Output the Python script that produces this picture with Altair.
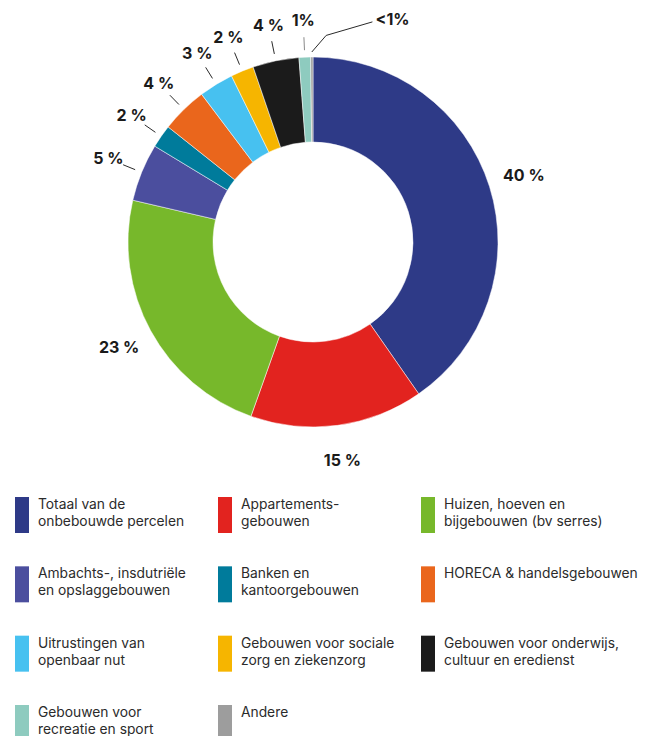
import altair as alt
import pandas as pd

# ---- data ----
categories = [
    "Totaal van de\nonbebouwde percelen",
    "Appartements-\ngebouwen",
    "Huizen, hoeven en\nbijgebouwen (bv serres)",
    "Ambachts-, insdutriële\nen opslaggebouwen",
    "Banken en\nkantoorgebouwen",
    "HORECA & handelsgebouwen",
    "Uitrustingen van\nopenbaar nut",
    "Gebouwen voor sociale\nzorg en ziekenzorg",
    "Gebouwen voor onderwijs,\ncultuur en eredienst",
    "Gebouwen voor\nrecreatie en sport",
    "Andere",
]
values = [40, 15, 23, 5, 2, 4, 3, 2, 4, 1, 0.2]
labels = ["40 %", "15 %", "23 %", "5 %", "2 %", "4 %", "3 %", "2 %", "4 %", "1%", "<1%"]
colors = ["#2E3A87", "#E2231F", "#77B82B", "#4B4E9E", "#007B9B", "#EA661C",
          "#47C1F0", "#F6B500", "#1B1B1B", "#8ECBBF", "#9D9D9D"]

df = pd.DataFrame({
    "cat": categories,
    "value": values,
    "label": labels,
    "idx": list(range(len(categories))),
})

CX, CY = 305, 234  # centre of the donut inside its plot area
color = alt.Color("cat:N", scale=alt.Scale(domain=categories, range=colors), legend=None)

base = (
    alt.Chart(df)
    .transform_joinaggregate(total="sum(value)")
    .transform_window(cum="sum(value)", sort=[alt.SortField("idx")], frame=[None, 0])
    .transform_calculate(
        t0="(datum.cum - datum.value) / datum.total * 2 * PI",
        t1="datum.cum / datum.total * 2 * PI",
        mid="(datum.t0 + datum.t1) / 2",
        lth="datum.idx == 10 ? datum.mid + 0.35 : datum.mid",
        lr="datum.idx == 10 ? 236 : 221",
        tx=f"{CX} + datum.lr * sin(datum.lth)",
        ty=f"{CY} - datum.lr * cos(datum.lth)",
        lx1=f"{CX} + 192 * sin(datum.mid)",
        ly1=f"{CY} - 192 * cos(datum.mid)",
        lx2=f"{CX} + 205 * sin(datum.mid)",
        ly2=f"{CY} - 205 * cos(datum.mid)",
        ax1=f"{CX} + 190 * sin(datum.mid)",
        ay1=f"{CY} - 190 * cos(datum.mid)",
        ex=f"{CX} + 207 * sin(datum.mid + 0.07)",
        ey=f"{CY} - 207 * cos(datum.mid + 0.07)",
        fx=f"{CX} + 228 * sin(datum.mid + 0.27)",
        fy=f"{CY} - 228 * cos(datum.mid + 0.27)",
    )
)

arcs = base.mark_arc(innerRadius=100, outerRadius=185, stroke="white", strokeWidth=0.5).encode(
    theta=alt.Theta("t0:Q", scale=None, stack=None),
    theta2="t1:Q",
    color=color,
    x=alt.value(CX),
    y=alt.value(CY),
)

leaders = base.transform_filter("datum.value < 10 && datum.idx != 10").mark_rule(strokeWidth=1).encode(
    x=alt.X("lx1:Q", scale=None, axis=None),
    y=alt.Y("ly1:Q", scale=None, axis=None),
    x2="lx2:Q",
    y2="ly2:Q",
    color=alt.condition("datum.idx == 9", alt.value("#8a8a8a"), alt.value("#2a2a2a")),
)

andere1 = base.transform_filter("datum.idx == 10").mark_rule(strokeWidth=1, color="#2a2a2a").encode(
    x=alt.X("ax1:Q", scale=None, axis=None),
    y=alt.Y("ay1:Q", scale=None, axis=None),
    x2="ex:Q",
    y2="ey:Q",
)
andere2 = base.transform_filter("datum.idx == 10").mark_rule(strokeWidth=1, color="#2a2a2a").encode(
    x=alt.X("ex:Q", scale=None, axis=None),
    y=alt.Y("ey:Q", scale=None, axis=None),
    x2="fx:Q",
    y2="fy:Q",
)

texts = base.mark_text(font="Inter", fontWeight="bold", fontSize=16, color="#1a1a1a",
                       align="center", baseline="middle").encode(
    x=alt.X("tx:Q", scale=None, axis=None),
    y=alt.Y("ty:Q", scale=None, axis=None),
    text="label:N",
)

donut = alt.layer(arcs, leaders, andere1, andere2, texts).properties(width=610, height=462)

# ---- legend as a small chart ----
leg_base = alt.Chart(df).transform_calculate(
    col="datum.idx % 3",
    row="floor(datum.idx / 3)",
)
xs = alt.Scale(domain=[0, 3], range=[14, 623])
ys = alt.Scale(domain=[0, 3], range=[45, 253])
swatches = leg_base.mark_rect(width=14, height=36, clip=True).encode(
    x=alt.X("col:Q", scale=xs, axis=None),
    y=alt.Y("row:Q", scale=ys, axis=None),
    color=color,
)
leg_text = leg_base.mark_text(font="Inter", fontSize=13.8, color="#2b2b2b", align="left",
                              baseline="alphabetic", dx=16, dy=-6, lineBreak="\n",
                              lineHeight=17, clip=True).encode(
    x=alt.X("col:Q", scale=xs, axis=None),
    y=alt.Y("row:Q", scale=ys, axis=None),
    text="cat:N",
)
legend = alt.layer(swatches, leg_text).properties(width=633, height=266)

chart = alt.vconcat(donut, legend, spacing=0, padding=0).configure_view(stroke=None)

chart.save("out.html", embed_options={"renderer": "svg", "actions": False})
